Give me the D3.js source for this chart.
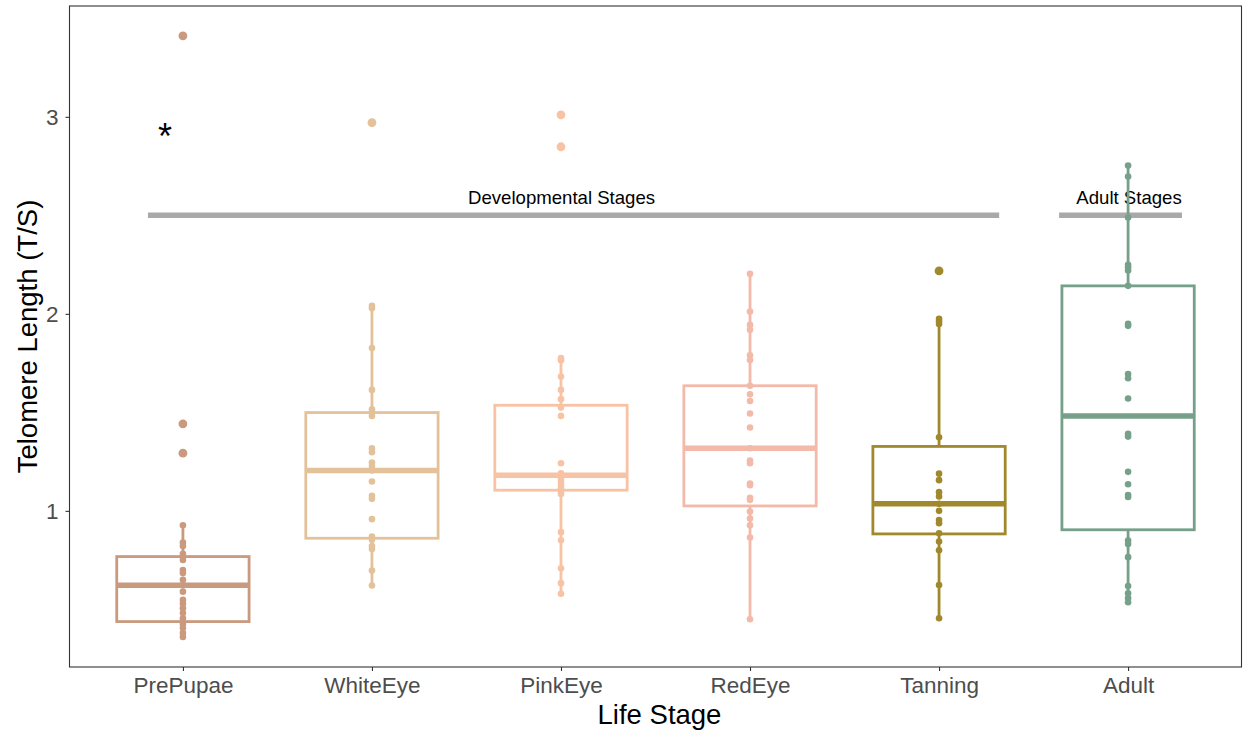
<!DOCTYPE html>
<html>
<head>
<meta charset="utf-8">
<script src="https://cdn.jsdelivr.net/npm/d3@7"></script>
<style>
  html, body { margin: 0; padding: 0; background: #ffffff; }
  svg { display: block; font-family: "Liberation Sans", Arial, Helvetica, sans-serif; }
</style>
</head>
<body>
<svg id="chart" width="1243" height="734"></svg>
<script>
// Life stages on the x axis and their colours
const stages = ["PrePupae", "WhiteEye", "PinkEye", "RedEye", "Tanning", "Adult"];
const stageColors = ["#C99A7E", "#E3C29A", "#F8C3A5", "#F3B9A9", "#A0892C", "#76A08A"];

// Telomere length (T/S) measurements per stage
const prePupae = [3.411, 1.442, 1.293, 0.927, 0.839, 0.822, 0.782, 0.751, 0.700, 0.684, 0.650,
  0.623, 0.590, 0.548, 0.528, 0.506, 0.481, 0.455, 0.426, 0.405, 0.380, 0.360];
const whiteEye = [2.970, 2.041, 2.029, 1.826, 1.614, 1.516, 1.499, 1.482, 1.318, 1.298, 1.245,
  1.228, 1.205, 1.149, 1.076, 1.061, 0.958, 0.870, 0.853, 0.822, 0.806, 0.697, 0.621];
const pinkEye = [3.010, 2.848, 1.775, 1.765, 1.682, 1.614, 1.567, 1.524, 1.482, 1.242, 1.191,
  1.181, 1.166, 1.149, 1.132, 1.115, 1.098, 1.086, 0.892, 0.851, 0.709, 0.633, 0.579];
const redEye = [2.203, 2.012, 1.944, 1.919, 1.790, 1.766, 1.635, 1.592, 1.558, 1.494, 1.423,
  1.318, 1.255, 1.242, 1.139, 1.130, 1.066, 1.056, 0.997, 0.961, 0.927, 0.865, 0.450];
const tanning = [2.218, 1.975, 1.962, 1.948, 1.374, 1.189, 1.156, 1.095, 1.073, 1.036, 1.000,
  0.954, 0.937, 0.886, 0.844, 0.800, 0.624, 0.455];
const adult = [2.753, 2.697, 2.489, 2.249, 2.237, 2.220, 2.142, 1.949, 1.939, 1.695, 1.673,
  1.570, 1.391, 1.377, 1.198, 1.135, 1.080, 1.070, 0.849, 0.832, 0.765, 0.619, 0.582, 0.557, 0.536];
const stageValues = [prePupae, whiteEye, pinkEye, redEye, tanning, adult];

// Box-plot summaries per stage: whisker ends, quartiles and median
const whiskerLow = [0.360, 0.621, 0.579, 0.450, 0.455, 0.536];
const quartile1  = [0.438, 0.861, 1.105, 1.025, 0.883, 0.904];
const medians    = [0.623, 1.205, 1.181, 1.318, 1.036, 1.482];
const quartile3  = [0.768, 1.499, 1.536, 1.635, 1.327, 2.142];
const whiskerHigh = [0.927, 2.041, 1.775, 2.203, 1.975, 2.753];

// Stage-group brackets and the y ticks
const groupLabels = ["Developmental Stages", "Adult Stages"];
const groupLevel = 2.5;
const yTicks = [1, 2, 3];

const svg = d3.select("#chart");
const panel = { left: 69.5, right: 1241.5, top: 6, bottom: 667 };

const x = d3.scalePoint().domain(stages).range([panel.left, panel.right]).padding(0.6);
const y = d3.scaleLinear().domain([0.2075, 3.5625]).range([panel.bottom, panel.top]);
const step = x.step();
const xAt = u => x(stages[0]) + (u - 1) * step;   // fractional category position
const halfBox = step * 0.35;

// Panel border
svg.append("rect")
  .attr("x", panel.left).attr("y", panel.top)
  .attr("width", panel.right - panel.left).attr("height", panel.bottom - panel.top)
  .attr("fill", "none").attr("stroke", "#333333").attr("stroke-width", 1.1);

// Axes
const xAxis = svg.append("g").attr("transform", `translate(0,${panel.bottom})`)
  .call(d3.axisBottom(x).tickSize(4).tickPadding(6));
const yAxis = svg.append("g").attr("transform", `translate(${panel.left},0)`)
  .call(d3.axisLeft(y).tickValues(yTicks).tickFormat(d3.format("d")).tickSize(4).tickPadding(7));
[xAxis, yAxis].forEach(g => {
  g.select(".domain").remove();
  g.selectAll(".tick line").attr("stroke", "#333333").attr("stroke-width", 1.1);
  g.selectAll(".tick text").attr("fill", "#4D4D4D").style("font-size", "22.5px")
    .style("font-family", "'Liberation Sans', Arial, sans-serif");
});

// Axis titles
svg.append("text")
  .attr("x", (panel.left + panel.right) / 2 + 4).attr("y", 724)
  .attr("text-anchor", "middle").attr("fill", "#000")
  .style("font-size", "27.5px").text("Life Stage");
svg.append("text")
  .attr("transform", `translate(37,${(panel.top + panel.bottom) / 2}) rotate(-90)`)
  .attr("text-anchor", "middle").attr("fill", "#000")
  .style("font-size", "27.5px").text("Telomere Length (T/S)");

// Stage-group brackets
const groupSpans = [[0.815, 5.318], [5.635, 6.285]];
const groupCentres = [3.003, 6.005];
groupLabels.forEach((label, i) => {
  svg.append("line")
    .attr("x1", xAt(groupSpans[i][0])).attr("x2", xAt(groupSpans[i][1]))
    .attr("y1", y(groupLevel)).attr("y2", y(groupLevel))
    .attr("stroke", "#A9A9A9").attr("stroke-width", 5.5);
  svg.append("text")
    .attr("x", xAt(groupCentres[i])).attr("y", y(groupLevel) - 11.5)
    .attr("text-anchor", "middle").attr("fill", "#000")
    .style("font-size", "18.6px").text(label);
});

// Significance marker above PrePupae
svg.append("text")
  .attr("x", xAt(0.905)).attr("y", y(2.93) + 18)
  .attr("text-anchor", "middle").attr("fill", "#000")
  .style("font-size", "36px").text("*");

// Box plots
stages.forEach((s, i) => {
  const g = svg.append("g");
  const cx = x(s), col = stageColors[i];
  g.append("line").attr("x1", cx).attr("x2", cx)
    .attr("y1", y(quartile3[i])).attr("y2", y(whiskerHigh[i]))
    .attr("stroke", col).attr("stroke-width", 2.8);
  g.append("line").attr("x1", cx).attr("x2", cx)
    .attr("y1", y(quartile1[i])).attr("y2", y(whiskerLow[i]))
    .attr("stroke", col).attr("stroke-width", 2.8);
  g.append("rect")
    .attr("x", cx - halfBox).attr("width", 2 * halfBox)
    .attr("y", y(quartile3[i])).attr("height", y(quartile1[i]) - y(quartile3[i]))
    .attr("fill", "#ffffff").attr("stroke", col).attr("stroke-width", 2.8);
  g.append("line").attr("x1", cx - halfBox).attr("x2", cx + halfBox)
    .attr("y1", y(medians[i])).attr("y2", y(medians[i]))
    .attr("stroke", col).attr("stroke-width", 5.5);
  // outliers beyond the whiskers
  g.selectAll("circle.outlier")
    .data(stageValues[i].filter(v => v > whiskerHigh[i] + 1e-9 || v < whiskerLow[i] - 1e-9))
    .join("circle").attr("class", "outlier")
    .attr("cx", cx).attr("cy", v => y(v)).attr("r", 4.4).attr("fill", col);
});

// Individual measurements
stages.forEach((s, i) => {
  svg.append("g").selectAll("circle")
    .data(stageValues[i])
    .join("circle")
    .attr("cx", x(s)).attr("cy", v => y(v)).attr("r", 3.3)
    .attr("fill", stageColors[i]);
});
</script>
</body>
</html>
